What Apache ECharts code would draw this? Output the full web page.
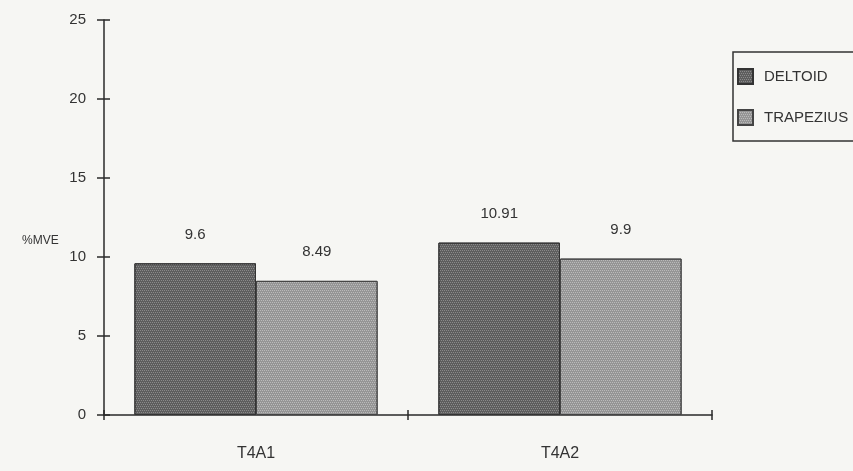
<!DOCTYPE html>
<html>
<head>
<meta charset="utf-8">
<script src="https://cdn.jsdelivr.net/npm/echarts@6/dist/echarts.min.js"></script>
<style>
html,body{margin:0;padding:0;background:#f6f6f3;}
#c{width:853px;height:471px;}
</style>
</head>
<body>
<div id="c"></div>
<script>
var categories = ['T4A1', 'T4A2'];
var deltoid = [9.6, 10.91];
var trapezius = [8.49, 9.9];
var yTicks = [0, 5, 10, 15, 20, 25];
var seriesNames = ['DELTOID', 'TRAPEZIUS'];

var chart = echarts.init(document.getElementById('c'), null, {renderer: 'canvas'});
var font = 'Liberation Sans, Arial, sans-serif';
var axisColor = '#2a2a2a';

function dots(color) {
  return {
    symbol: 'rect',
    symbolSize: 1,
    color: color,
    dashArrayX: [[1, 1], [0, 1, 1, 0]],
    dashArrayY: [1, 1],
    rotation: 0
  };
}

var option = {
  backgroundColor: '#f6f6f3',
  animation: false,
  grid: {left: 104, right: 141, top: 20, bottom: 56},
  legend: {
    left: 733, top: 52,
    orient: 'vertical',
    data: seriesNames,
    itemWidth: 15, itemHeight: 15, itemGap: 24,
    icon: 'rect',
    borderColor: '#333', borderWidth: 1.5, borderRadius: 0,
    padding: [16, 60, 15, 4],
    textStyle: {fontFamily: font, fontSize: 15, color: '#333', padding: [0, 0, 0, 6]}
  },
  xAxis: [{
    type: 'category',
    data: categories,
    position: 'bottom',
    axisLine: {lineStyle: {color: axisColor, width: 1.5}},
    axisTick: {show: true, length: 5, lineStyle: {color: axisColor, width: 1.5}},
    axisLabel: {margin: 31, fontFamily: font, fontSize: 16, color: '#333'}
  }, {
    type: 'category',
    data: categories,
    position: 'bottom',
    axisLine: {show: false},
    axisTick: {show: true, inside: true, length: 5, lineStyle: {color: axisColor, width: 1.5}},
    axisLabel: {show: false}
  }],
  yAxis: [{
    type: 'value',
    min: 0, max: 25, interval: 5,
    axisLine: {show: true, lineStyle: {color: axisColor, width: 1.5}},
    axisTick: {show: true, length: 7, lineStyle: {color: axisColor, width: 1.5}},
    splitLine: {show: false},
    axisLabel: {
      margin: 18, fontFamily: font, fontSize: 15, color: '#333',
      formatter: function (v) { return yTicks.indexOf(v) >= 0 ? String(v) : ''; }
    }
  }, {
    type: 'value',
    position: 'left',
    min: 0, max: 25, interval: 5,
    axisLine: {show: false},
    axisTick: {show: true, inside: true, length: 6, lineStyle: {color: axisColor, width: 1.5}},
    splitLine: {show: false},
    axisLabel: {show: false}
  }],
  graphic: [{
    type: 'text',
    left: 22, top: 235,
    style: {text: '%MVE', font: '12px ' + font, fill: '#333'}
  }],
  series: [{
    name: seriesNames[0],
    type: 'bar',
    data: deltoid,
    barWidth: '40%',
    barGap: '0%',
    itemStyle: {color: '#5e5e5e', borderColor: '#333', borderWidth: 1, decal: dots('rgba(255,255,255,0.28)')},
    label: {show: true, position: 'top', distance: 21, fontFamily: font, fontSize: 15, color: '#333'}
  }, {
    name: seriesNames[1],
    type: 'bar',
    data: trapezius,
    barWidth: '40%',
    barGap: '0%',
    itemStyle: {color: '#959595', borderColor: '#444', borderWidth: 1, decal: dots('rgba(255,255,255,0.35)')},
    label: {show: true, position: 'top', distance: 21, fontFamily: font, fontSize: 15, color: '#333'}
  }]
};
chart.setOption(option);
</script>
</body>
</html>
